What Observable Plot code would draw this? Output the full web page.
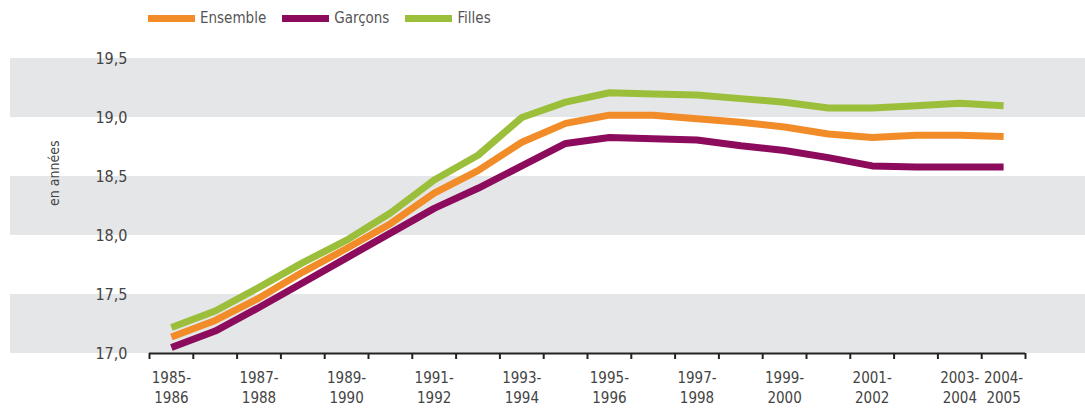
<!DOCTYPE html>
<html>
<head>
<meta charset="utf-8">
<script src="https://cdn.jsdelivr.net/npm/d3@7"></script>
<script src="https://cdn.jsdelivr.net/npm/@observablehq/plot@0.6"></script>
<style>
  html, body { margin: 0; padding: 0; background: #fff; width: 1085px; height: 417px; overflow: hidden; }
  body { font-family: "Liberation Sans Narrow", "DejaVu Sans Condensed", "Roboto", sans-serif; }
  #legend { height: 36px; position: relative; display: flex; align-items: center; padding-left: 148px; box-sizing: border-box; font-size: 15px; color: #555; }
  .item { display: flex; align-items: center; margin-right: 16px; }
  .sw { width: 47px; height: 7px; margin-right: 5px; }
</style>
</head>
<body>
<div id="legend"></div>
<div id="chart"></div>
<script>
const years = ["1985-1986","1986-1987","1987-1988","1988-1989","1989-1990","1990-1991","1991-1992","1992-1993","1993-1994","1994-1995","1995-1996","1996-1997","1997-1998","1998-1999","1999-2000","2000-2001","2001-2002","2002-2003","2003-2004","2004-2005"];
const ensemble = [17.14,17.28,17.47,17.69,17.89,18.10,18.36,18.55,18.79,18.95,19.02,19.02,18.99,18.96,18.92,18.86,18.83,18.85,18.85,18.84];
const garcons  = [17.05,17.19,17.39,17.60,17.81,18.02,18.23,18.40,18.59,18.78,18.83,18.82,18.81,18.76,18.72,18.66,18.59,18.58,18.58,18.58];
const filles   = [17.22,17.36,17.56,17.77,17.96,18.19,18.47,18.68,19.00,19.13,19.21,19.20,19.19,19.16,19.13,19.08,19.08,19.10,19.12,19.10];
const seriesNames = ["Ensemble","Garçons","Filles"];
const seriesColors = ["#f28c28","#8c0b5c","#9cbf3b"];
const yTicks = [17.0,17.5,18.0,18.5,19.0,19.5];
const xTickLabels = ["1985-1986","1987-1988","1989-1990","1991-1992","1993-1994","1995-1996","1997-1998","1999-2000","2001-2002","2003-2004","2004-2005"];
const yLabel = "en années";

// legend
const legend = document.getElementById("legend");
seriesNames.forEach((n, i) => {
  const it = document.createElement("div"); it.className = "item";
  const sw = document.createElement("div"); sw.className = "sw"; sw.style.background = seriesColors[i];
  const t = document.createElement("span"); t.textContent = n;
  it.appendChild(sw); it.appendChild(t); legend.appendChild(it);
});

const valuesBySeries = [ensemble, garcons, filles];
const data = [];
seriesNames.forEach((s, k) => years.forEach((y, i) => data.push({series: s, year: y, i, v: valuesBySeries[k][i]})));

const bands = [];
for (let j = 0; j + 1 < yTicks.length; j += 2) bands.push({y1: yTicks[j], y2: yTicks[j + 1]});

const fmt = d => d3.format(".1f")(d).replace(".", ",");
const labelIdx = xTickLabels.map(l => years.indexOf(l) + 0.5);
const labelOf = new Map(xTickLabels.map(l => [years.indexOf(l) + 0.5, l.replace("-", "-\n")]));

const chart = Plot.plot({
  width: 1085,
  height: 381,
  marginTop: 22,
  marginBottom: 64,
  marginLeft: 149,
  marginRight: 60,
  style: {fontFamily: "'Liberation Sans Narrow', 'DejaVu Sans Condensed', sans-serif", fontSize: "15px", color: "#444", background: "#fff", overflow: "visible"},
  x: {domain: [0, years.length], axis: null},
  y: {domain: [yTicks[0], yTicks[yTicks.length - 1]], axis: null},
  color: {domain: seriesNames, range: seriesColors},
  marks: [
    Plot.rect(bands, {y1: "y1", y2: "y2", fill: "#e5e6e8", insetLeft: -139, insetRight: -60}),
    Plot.axisY({ticks: yTicks, tickSize: 0, tickPadding: 22, tickFormat: fmt, label: null, fill: "#444", fontSize: 16}),
    Plot.text([yLabel], {frameAnchor: "left", rotate: -90, dx: -95, fontSize: 14, fill: "#444"}),
    Plot.ruleY([yTicks[0]], {stroke: "#222", strokeWidth: 2}),
    Plot.axisX({ticks: d3.range(years.length + 1), tickSize: 6, tickFormat: () => "", stroke: "#222", strokeWidth: 2, label: null}),
    Plot.axisX({ticks: labelIdx, tickSize: 0, tickPadding: 15, tickFormat: d => labelOf.get(d), lineHeight: 1.35, label: null, fill: "#444", fontSize: 15}),
    Plot.line(data, {x: d => d.i + 0.5, y: "v", z: "series", stroke: "series", strokeWidth: 7, strokeLinecap: "butt", strokeLinejoin: "round"})
  ]
});
document.getElementById("chart").appendChild(chart);
</script>
</body>
</html>
